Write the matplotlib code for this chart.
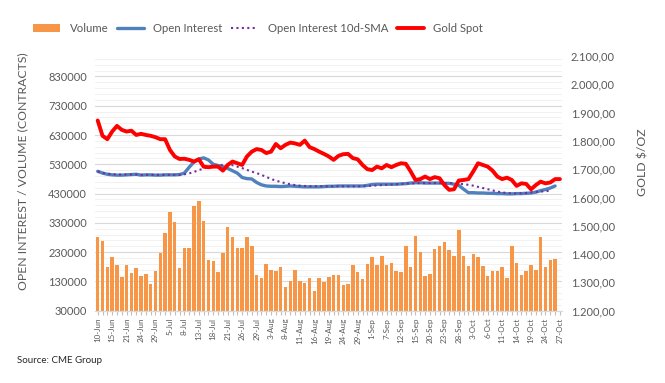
import matplotlib
matplotlib.use("Agg")
import matplotlib.pyplot as plt
import numpy as np
import pandas as pd

plt.rcParams['font.family'] = ['Lato', 'DejaVu Sans']

# trading days 10-Jun-2022 .. 27-Oct-2022 (US holidays removed)
holidays = pd.to_datetime(['2022-06-20', '2022-07-04', '2022-09-05'])
dates = pd.bdate_range('2022-06-10', '2022-10-27')
dates = dates[~dates.isin(holidays)]
date_labels = [f"{d.day}-{d.strftime('%b')}" for d in dates]

volume = [281000, 267000, 178000, 213000, 185000, 144000, 185000, 158000, 175000, 148000,
          154000, 120000, 165000, 226000, 295000, 366000, 332000, 175000, 243000, 243000,
          387000, 404000, 336000, 202000, 199000, 161000, 226000, 315000, 281000, 243000,
          243000, 281000, 250000, 151000, 141000, 189000, 168000, 165000, 178000, 110000,
          130000, 168000, 130000, 124000, 141000, 96000, 141000, 127000, 144000, 151000,
          151000, 117000, 120000, 185000, 161000, 137000, 189000, 213000, 185000, 216000,
          185000, 192000, 165000, 161000, 250000, 178000, 284000, 230000, 148000, 154000,
          240000, 250000, 264000, 236000, 216000, 305000, 216000, 182000, 223000, 213000,
          182000, 148000, 165000, 165000, 178000, 141000, 250000, 192000, 151000, 165000,
          185000, 168000, 281000, 178000, 202000, 206000]

open_interest = [506000, 500000, 496000, 494000, 493000, 493000, 494000, 495000, 496000, 493000,
                 494000, 494000, 493000, 493000, 494000, 494000, 494000, 495000, 500000, 520000,
                 538000, 548000, 552000, 545000, 530000, 526000, 522000, 516000, 508000, 500000,
                 485000, 481000, 480000, 468000, 460000, 456000, 455000, 455000, 454000, 455000,
                 456000, 455000, 454000, 453000, 453000, 453000, 453000, 454000, 455000, 455000,
                 456000, 456000, 456000, 456000, 456000, 456000, 458000, 461000, 462000, 462000,
                 462000, 462000, 462000, 463000, 464000, 466000, 467000, 467000, 466000, 466000,
                 466000, 466000, 465000, 465000, 462000, 458000, 445000, 433000, 433000, 432000,
                 432000, 431000, 431000, 430000, 430000, 429000, 429000, 430000, 430000, 431000,
                 432000, 435000, 440000, 444000, 449000, 456000]

oi_sma = [506000, 501000, 498000, 496000, 495000, 495000, 495000, 495000, 495000, 494000,
          494000, 494000, 494000, 494000, 494000, 494000, 494000, 494000, 496000, 499000,
          504000, 510000, 516000, 520000, 524000, 527000, 528000, 528000, 527000, 522000,
          517000, 511000, 505000, 500000, 494000, 487000, 480000, 474000, 470000, 465000,
          462000, 459000, 457000, 456000, 455000, 455000, 455000, 455000, 455000, 455000,
          455000, 455000, 455000, 455000, 455000, 455000, 456000, 457000, 458000, 459000,
          460000, 461000, 462000, 463000, 464000, 465000, 465000, 466000, 466000, 466000,
          466000, 466000, 466000, 466000, 465000, 464000, 462000, 460000, 457000, 453000,
          449000, 445000, 441000, 437000, 434000, 432000, 431000, 430000, 431000, 432000,
          434000, 436000, 437000, 438000, 440000]

gold = [1872, 1818, 1806, 1833, 1853, 1839, 1833, 1836, 1821, 1825,
        1821, 1818, 1813, 1806, 1806, 1768, 1745, 1736, 1737, 1733,
        1727, 1735, 1709, 1707, 1709, 1709, 1695, 1715, 1727, 1721,
        1715, 1745, 1762, 1771, 1768, 1757, 1762, 1789, 1774, 1786,
        1794, 1791, 1786, 1801, 1778, 1771, 1762, 1754, 1745, 1733,
        1747, 1753, 1754, 1739, 1735, 1715, 1700, 1697, 1709, 1703,
        1715, 1707, 1715, 1721, 1719, 1692, 1662, 1665, 1674, 1665,
        1672, 1668, 1644, 1627, 1629, 1660, 1662, 1665, 1692, 1721,
        1715, 1709, 1695, 1674, 1665, 1670, 1662, 1641, 1650, 1648,
        1629, 1644, 1656, 1650, 1653, 1665, 1665]

left_ticks = list(range(30000, 830001, 100000))
right_ticks = list(range(1200, 2101, 100))


def euro(v):
    s = f"{v:,.2f}"
    return s.replace(',', 'X').replace('.', ',').replace('X', '.')


fig = plt.figure(figsize=(6.65, 3.83), dpi=100)
ax = fig.add_axes([0.1433, 0.1888, 0.7023, 0.6650])
ax2 = ax.twinx()

x = np.arange(len(dates))
bars = ax.bar(x[:len(volume)], volume, width=0.72, color='#F79646', label='Volume', zorder=2)
oi_line, = ax.plot(x[:len(open_interest)], open_interest, color='#4F81BD', lw=2.4,
                   solid_capstyle='round', label='Open Interest', zorder=3)
sma_line, = ax.plot(x[:len(oi_sma)], oi_sma, color='#7030A0', lw=1.5,
                    linestyle=(0, (1, 1.6)), label='Open Interest 10d-SMA', zorder=4)
gold_line, = ax2.plot(x[:len(gold)], gold, color='#FF0000', lw=2.8, solid_capstyle='round',
                      label='Gold Spot', zorder=5)

ax.set_xlim(-0.5, len(dates) - 0.5)
ax.set_ylim(30000, 900000)
ax2.set_ylim(1200, 2100)

ax.set_yticks(left_ticks)
ax.set_yticklabels([str(v) for v in left_ticks])
ax.set_yticks(range(30000, 900000, 20000), minor=True)
ax2.set_yticks(right_ticks)
ax2.set_yticklabels([euro(v) for v in right_ticks])

ax.set_xticks(x)
ax.set_xticklabels([lab if i % 3 == 0 else '' for i, lab in enumerate(date_labels)],
                   rotation=90, fontsize=5.8, color='#595959')

ax.grid(axis='y', which='major', color='#d9d9d9', lw=0.8, zorder=0)
ax.grid(axis='y', which='minor', color='#efefef', lw=0.6, zorder=0)
ax.set_axisbelow(True)

for a in (ax, ax2):
    for side in ('top', 'left', 'right'):
        a.spines[side].set_visible(False)
    a.spines['bottom'].set_color('#d9d9d9')
ax.tick_params(axis='x', length=3, color='#bfbfbf', pad=2)
ax.tick_params(axis='y', which='both', length=0, labelsize=8, labelcolor='#595959', pad=6)
ax2.tick_params(axis='y', length=0, labelsize=8, labelcolor='#595959', pad=6)

fig.text(0.034, 0.553, 'OPEN INTEREST / VOLUME (CONTRACTS)', rotation=90,
         ha='center', va='center', fontsize=8.8, color='#595959')
fig.text(0.967, 0.577, 'GOLD $/OZ', rotation=90, ha='center', va='center',
         fontsize=8.8, color='#595959')
fig.text(0.026, 0.06, 'Source: CME Group', fontsize=7, color='#262626',
         ha='left', va='center')

fig.legend([bars, oi_line, sma_line, gold_line],
           ['Volume', 'Open Interest', 'Open Interest 10d-SMA', 'Gold Spot'],
           loc='center', bbox_to_anchor=(0.388, 0.9256), ncol=4,
           frameon=False, fontsize=8.2, handlelength=2.4, handleheight=0.6,
           handletextpad=0.8, columnspacing=0.75, labelcolor='#595959')

fig.savefig('out.png', dpi=100)
